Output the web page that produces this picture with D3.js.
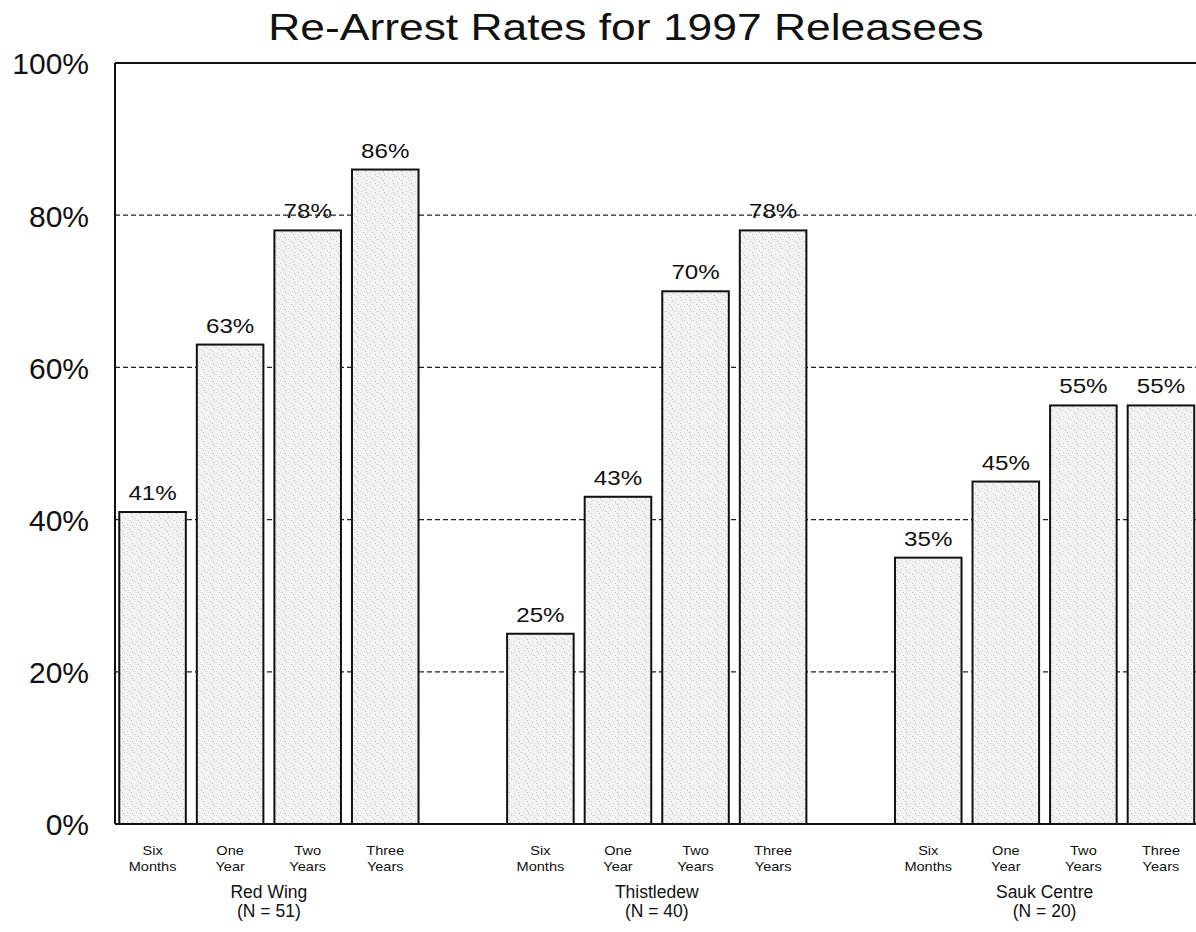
<!DOCTYPE html>
<html>
<head>
<meta charset="utf-8">
<script src="https://cdn.jsdelivr.net/npm/d3@7"></script>
<style>
  html, body { margin: 0; padding: 0; background: #fff; }
  svg { display: block; font-family: "Liberation Sans", Arial, sans-serif; }
</style>
</head>
<body>
<svg id="chart" width="1196" height="932"></svg>
<script>
// ---- data ----
const titleText = "Re-Arrest Rates for 1997 Releasees";
const periods = ["Six Months", "One Year", "Two Years", "Three Years"];
const periodLines = [["Six", "Months"], ["One", "Year"], ["Two", "Years"], ["Three", "Years"]];
const facilities = ["Red Wing", "Thistledew", "Sauk Centre"];
const sampleSizes = [51, 40, 20];
const redWing = [41, 63, 78, 86];
const thistledew = [25, 43, 70, 78];
const saukCentre = [35, 45, 55, 55];
const yTicks = [0, 20, 40, 60, 80, 100];

const seriesValues = [redWing, thistledew, saukCentre];

// ---- build slots (bars + gap slots between facility groups) ----
const bars = [];
const slots = [];
facilities.forEach((f, gi) => {
  periods.forEach((p, pi) => {
    const key = f + "|" + p;
    slots.push(key);
    bars.push({ key, facility: f, period: p, lines: periodLines[pi], value: seriesValues[gi][pi], group: gi });
  });
  if (gi < facilities.length - 1) slots.push("gap" + gi);
});

const svg = d3.select("#chart");

const x = d3.scaleBand().domain(slots).range([115, 1198.5]).paddingInner(0.142).paddingOuter(0.055);
const y = d3.scaleLinear().domain([0, 100]).range([824, 63]);

// texture pattern for bars
const defs = svg.append("defs");
const pat = defs.append("pattern").attr("id", "speckle").attr("patternUnits", "userSpaceOnUse")
  .attr("width", 9).attr("height", 9);
pat.append("rect").attr("width", 9).attr("height", 9).attr("fill", "#f2f2f2");
[[1,2],[5,0],[7,5],[3,7],[0,5],[6,3]].forEach(([a,b], i) => {
  pat.append("rect").attr("x", a).attr("y", b).attr("width", 1).attr("height", 1)
    .attr("fill", i % 2 ? "#c4c4c4" : "#d6d6d6");
});

// title
svg.append("text")
  .attr("transform", "translate(626,40) scale(1.2,1)")
  .attr("text-anchor", "middle")
  .attr("font-size", 37)
  .attr("fill", "#111")
  .text(titleText);

// dashed gridlines (behind bars)
svg.append("g").selectAll("line")
  .data(yTicks.filter(t => t > 0 && t < 100))
  .join("line")
  .attr("x1", 115).attr("x2", 1196)
  .attr("y1", d => y(d)).attr("y2", d => y(d))
  .attr("stroke", "#222").attr("stroke-width", 1.2)
  .attr("stroke-dasharray", "5,3");

// y axis via d3 axis (labels only, line drawn separately)
const yAxis = svg.append("g")
  .attr("transform", "translate(89,0)")
  .call(d3.axisLeft(y).tickValues(yTicks).tickFormat(d => d + "%").tickSize(0).tickPadding(0));
yAxis.select(".domain").remove();
yAxis.selectAll("text")
  .attr("font-family", "'Liberation Sans', Arial, sans-serif")
  .attr("font-size", 30)
  .attr("fill", "#111")
  .attr("text-anchor", "end")
  .attr("dy", "0.36em")
  .attr("x", 0);

// bars
svg.append("g").selectAll("rect")
  .data(bars)
  .join("rect")
  .attr("x", d => x(d.key))
  .attr("width", x.bandwidth())
  .attr("y", d => y(d.value))
  .attr("height", d => y(0) - y(d.value))
  .attr("fill", "url(#speckle)")
  .attr("stroke", "#111")
  .attr("stroke-width", 2);

// frame: left axis, top line, bottom baseline
svg.append("line").attr("x1", 115).attr("x2", 115).attr("y1", y(100)).attr("y2", y(0))
  .attr("stroke", "#111").attr("stroke-width", 2);
svg.append("line").attr("x1", 115).attr("x2", 1196).attr("y1", y(100)).attr("y2", y(100))
  .attr("stroke", "#111").attr("stroke-width", 2);
svg.append("line").attr("x1", 115).attr("x2", 1196).attr("y1", y(0)).attr("y2", y(0))
  .attr("stroke", "#111").attr("stroke-width", 2);

// value labels
svg.append("g").selectAll("text")
  .data(bars)
  .join("text")
  .attr("transform", d => `translate(${x(d.key) + x.bandwidth() / 2},${y(d.value) - 12}) scale(1.15,1)`)
  .attr("text-anchor", "middle")
  .attr("font-size", 21)
  .attr("fill", "#111")
  .text(d => d.value + "%");

// period labels (two lines)
const pl = svg.append("g").selectAll("g")
  .data(bars)
  .join("g")
  .attr("transform", d => `translate(${x(d.key) + x.bandwidth() / 2},0)`);
pl.each(function(d) {
  const g = d3.select(this);
  d.lines.forEach((ln, i) => {
    g.append("text")
      .attr("transform", `translate(0,${855 + i * 15.5}) scale(1.12,1)`)
      .attr("text-anchor", "middle")
      .attr("font-size", 13)
      .attr("fill", "#111")
      .text(ln);
  });
});

// facility labels
facilities.forEach((f, gi) => {
  const first = x(f + "|" + periods[0]);
  const last = x(f + "|" + periods[periods.length - 1]) + x.bandwidth();
  const cx = (first + last) / 2;
  svg.append("text").attr("x", cx).attr("y", 898)
    .attr("text-anchor", "middle").attr("font-size", 17.5).attr("fill", "#111").text(f);
  svg.append("text").attr("x", cx).attr("y", 917)
    .attr("text-anchor", "middle").attr("font-size", 17.5).attr("fill", "#111").text(`(N = ${sampleSizes[gi]})`);
});
</script>
</body>
</html>
